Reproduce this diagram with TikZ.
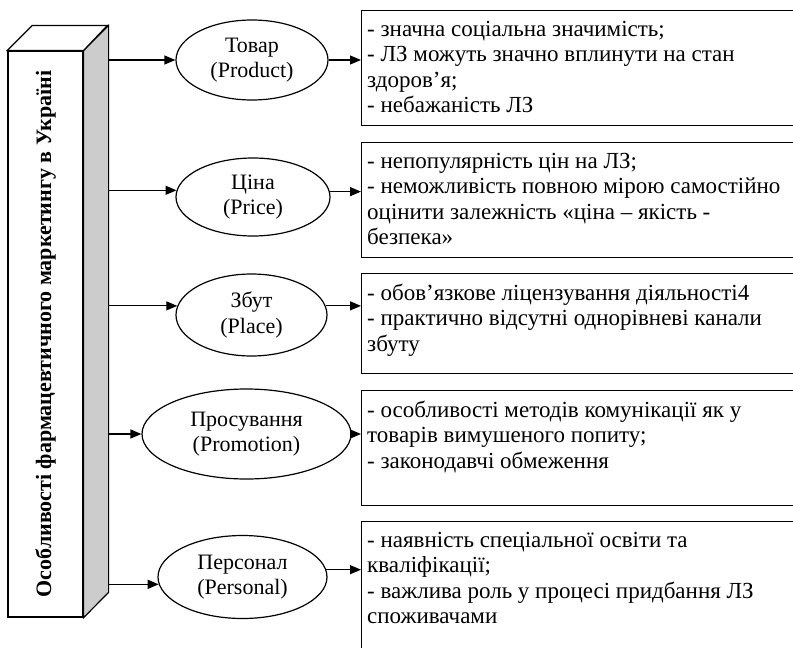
\documentclass[tikz,border=0pt]{standalone}
\usepackage{fontspec}
\setmainfont{Liberation Serif}
\usetikzlibrary{shapes.geometric,arrows.meta}

\begin{document}
\begin{tikzpicture}[x=1pt,y=-1pt,
    >={Triangle[length=11pt,width=9pt]},
    factor/.style={ellipse, draw, line width=1.2pt, inner sep=0pt, align=center,
        font=\fontsize{22}{25.3}\selectfont},
    descbox/.style={rectangle, draw, line width=1.2pt, anchor=north west, minimum width=450pt},
    desctext/.style={anchor=north west, align=left, inner xsep=6pt, inner ysep=11pt,
        font=\fontsize{23}{25.3}\selectfont},
    link/.style={->, line width=1.2pt}]
        \useasboundingbox (0,0) rectangle (793,648);
        \clip (0,0) rectangle (793,648);

        % Define the pillar
        \node at (45.5,334) (pillar) [rectangle, draw, line width=1.2pt, minimum width=75pt, minimum height=566pt] {};
        \draw[line width=1.2pt, fill=black!20] (pillar.north east) -- ++(25,-25) -- ++(0,567) -- (pillar.south east) -- cycle;
        \draw[line width=1.2pt, fill=white] (pillar.north west) -- ++(25,-25) -- ++(75,0) -- (pillar.north east) -- cycle;
        \node at (pillar.center) (title) [rotate=90, font=\bfseries\fontsize{22}{25}\selectfont] {Особливості фармацевтичного маркетингу в Україні};
        \coordinate (back) at (108,334);

        % Define nodes for the factors
        \node at (252,60) (product) [factor, minimum width=152pt, minimum height=80pt] {Товар\\(Product)};
        \node at (253,197) (price) [factor, minimum width=154pt, minimum height=78pt] {Ціна\\(Price)};
        \node at (251.5,315) (place) [factor, minimum width=151pt, minimum height=82pt] {Збут\\(Place)};
        \node at (246.5,434) (promotion) [factor, minimum width=209pt, minimum height=90pt] {Просування\\(Promotion)};
        \node at (242.5,577) (personal) [factor, minimum width=169pt, minimum height=83pt] {Персонал\\(Personal)};

        % Define nodes for the features
        \node at (361,10) (d1) [descbox, minimum height=115pt] {};
        \node at (361,142) (d2) [descbox, minimum height=115pt] {};
        \node at (361,273) (d3) [descbox, minimum height=100pt] {};
        \node at (361,390) (d4) [descbox, minimum height=115pt] {};
        \node at (361,521) (d5) [descbox, minimum height=139pt] {};

        \node at (d1.north west) [desctext] {- значна соціальна значимість;\\- ЛЗ можуть значно вплинути на стан\\здоров’я;\\- небажаність ЛЗ};
        \node at (d2.north west) [desctext] {- непопулярність цін на ЛЗ;\\- неможливість повною мірою самостійно\\оцінити залежність «ціна – якість -\\безпека»};
        \node at (d3.north west) [desctext] {- обов’язкове ліцензування діяльності4\\- практично відсутні однорівневі канали\\збуту};
        \node at (d4.north west) [desctext] {- особливості методів комунікації як у\\товарів вимушеного попиту;\\- законодавчі обмеження};
        \node at (d5.north west) [desctext] {- наявність спеціальної освіти та\\кваліфікації;\\- важлива роль у процесі придбання ЛЗ\\споживачами};

        % Draw edges
        \draw[link] (back |- product.west) -- (product.west);
        \draw[link] (back |- price.175.5) -- (price.175.5);
        \draw[link] (back |- place.173) -- (place.173);
        \draw[link] (back |- promotion.west) -- (promotion.west);
        \draw[link] (back |- personal.185.5) -- (personal.185.5);

        \draw[link] (product.east) -- (product.east -| d1.west);
        \draw[link] (price.4.5) -- (price.4.5 -| d2.west);
        \draw[link] (place.7) -- (place.7 -| d3.west);
        \draw[link] (promotion.east) -- (promotion.east -| d4.west);
        \draw[link] (personal.5.5) -- (personal.5.5 -| d5.west);
    \end{tikzpicture}
\end{document}
